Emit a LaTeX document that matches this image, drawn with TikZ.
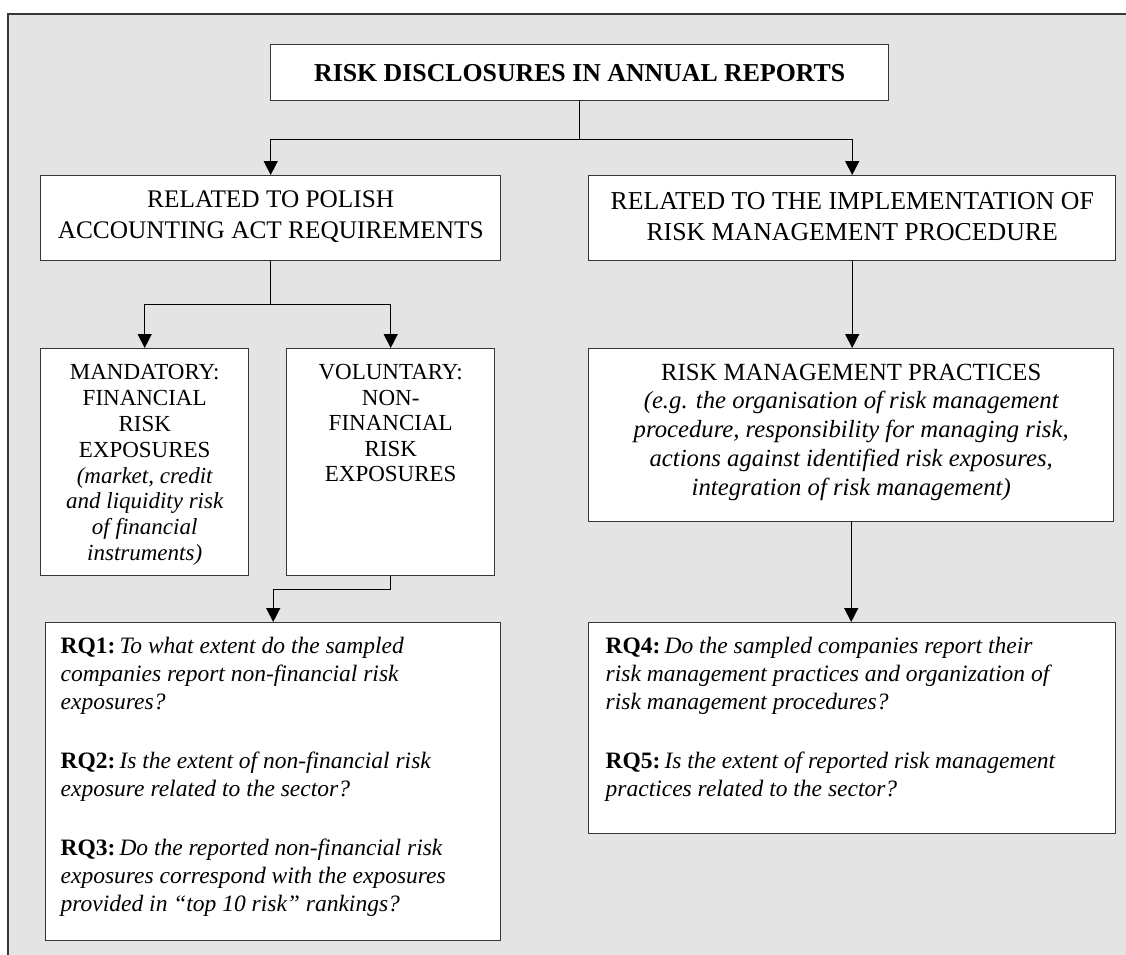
\documentclass[tikz,border=0pt]{standalone}
\usepackage{fontspec}
\setmainfont{Liberation Serif}
\usetikzlibrary{arrows.meta}
\definecolor{bggray}{RGB}{228,228,228}
\definecolor{edge}{RGB}{55,55,55}
\newcommand{\rqlabel}[1]{\textbf{#1}\hspace{4pt}}
\begin{document}
\begin{tikzpicture}[x=1pt,y=-1pt,
  box/.style={draw=edge, line width=1.4pt, fill=white, inner sep=0pt, anchor=north west},
  conn/.style={line width=1.4pt, draw=black},
  arr/.style={conn, -{Triangle[length=14pt,width=14pt]}}]
\useasboundingbox (0,0) rectangle (1126,954);
\fill[bggray] (8,14) rectangle (1140,970);
\draw[edge, line width=1.8pt] (1140,14) -- (8,14) -- (8,970);

% boxes
\node[box] (title) at (270,44) {\parbox[c][56pt][c]{618pt}{\centering\fontsize{25.8}{28}\selectfont\bfseries RISK DISCLOSURES IN ANNUAL REPORTS}};

\node[box] (rel1) at (40,175) {\parbox[c][85pt][c]{460pt}{\centering\fontsize{25.3}{31}\selectfont RELATED TO POLISH\\ ACCOUNTING ACT REQUIREMENTS\vspace*{3pt}}};

\node[box] (rel2) at (588,175) {\parbox[c][85pt][c]{527pt}{\centering\fontsize{25.8}{31}\selectfont RELATED TO THE IMPLEMENTATION OF\\ RISK MANAGEMENT PROCEDURE\vspace*{3pt}}};

\node[box] (mand) at (40,348) {\parbox[c][227pt][t]{208pt}{\vspace*{16pt}\centering\fontsize{23}{25.8}\selectfont MANDATORY:\\ FINANCIAL\\ RISK\\ EXPOSURES\\ \itshape (market, credit\\ and liquidity risk\\ of financial\\ instruments)}};

\node[box] (vol) at (286,348) {\parbox[c][227pt][t]{208pt}{\vspace*{16pt}\centering\fontsize{23}{25.5}\selectfont VOLUNTARY:\\ NON-\\ FINANCIAL\\ RISK\\ EXPOSURES}};

\node[box] (rmp) at (588,348) {\parbox[c][173pt][t]{525pt}{\vspace*{15pt}\centering\fontsize{24.7}{28.8}\selectfont RISK MANAGEMENT PRACTICES\\ \itshape (e.g. the organisation of risk management\\ procedure, responsibility for managing risk,\\ actions against identified risk exposures,\\ integration of risk management)}};

\node[box] (rq1) at (45,622) {\parbox[c][318pt][t]{455pt}{\vspace*{14pt}\raggedright\leftskip=15pt\fontsize{23.5}{28}\selectfont
\rqlabel{RQ1:}\textit{To what extent do the sampled}\\
\textit{companies report non-financial risk}\\
\textit{exposures?}\\[31pt]
\rqlabel{RQ2:}\textit{Is the extent of non-financial risk}\\
\textit{exposure related to the sector?}\\[31pt]
\rqlabel{RQ3:}\textit{Do the reported non-financial risk}\\
\textit{exposures correspond with the exposures}\\
\textit{provided in “top 10 risk” rankings?}}};

\node[box] (rq45) at (588,622) {\parbox[c][211pt][t]{527pt}{\vspace*{14pt}\raggedright\leftskip=17pt\fontsize{23.5}{28}\selectfont
\rqlabel{RQ4:}\textit{Do the sampled companies report their}\\
\textit{risk management practices and organization of}\\
\textit{risk management procedures?}\\[31pt]
\rqlabel{RQ5:}\textit{Is the extent of reported risk management}\\
\textit{practices related to the sector?}}};

% connectors
\draw[conn] (title.south) -- ++(0,38) coordinate (j1);
\draw[arr] (j1) -| (rel1.north);
\draw[arr] (j1) -| (rel2.north);
\draw[conn] (rel1.south) -- ++(0,43) coordinate (j2);
\draw[arr] (j2) -| (mand.north);
\draw[arr] (j2) -| (vol.north);
\draw[conn] (vol.south) -- ++(0,13) coordinate (j3);
\draw[arr] (j3) -| (rq1.north);
\draw[arr] (rel2.south) -- (rel2.south |- rmp.north);
\draw[arr] (rmp.south) -- (rmp.south |- rq45.north);
\end{tikzpicture}
\end{document}
